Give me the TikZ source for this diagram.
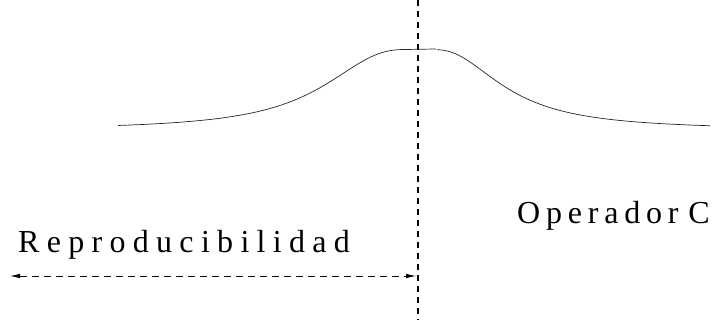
\documentclass[tikz,border=0pt]{standalone}
\usepackage{fontspec}
\setmainfont{Liberation Serif}
\usepackage{tikz}
\usetikzlibrary{arrows.meta}

\begin{document}
\begin{tikzpicture}[
  x=1pt, y=-1pt,
  label/.style={inner sep=0pt, font=\fontsize{32}{38}\selectfont},
  axisline/.style={line width=2.2pt, dash pattern=on 6pt off 5pt},
  spanarrow/.style={{Latex[length=10pt,width=4.5pt]}-{Latex[length=10pt,width=4.5pt]}, line width=0.8pt, dash pattern=on 7pt off 5pt},
  curve/.style={line width=0.7pt, black!85}
]
\useasboundingbox (0,0) rectangle (714,320);

% la curva
\draw[curve] plot[domain=118:404, samples=80] (\x, {126 - 80.5*(1/(1+((405-\x)/88.7)^2.4) - 0.05)})
  -- (436,49)
  plot[domain=437:710, samples=80] (\x, {126 - 80.3*(1/(1+((\x-436)/74)^2.2) - 0.05)});

% eje vertical
\coordinate (top) at (418,0);
\coordinate (bottom) at (418,320);
\draw[axisline] (top) -- (bottom);

% etiquetas
\node[label, anchor=base east] (operador) at (710,224) {\spaceskip=5.8pt O p e r a d o r\hspace{4pt} C};
\node[label, anchor=base west] (repro) at (18,252) {\spaceskip=7.3pt R e p r o d u c i b i l i d a d};

% flecha
\coordinate (arrowleft) at (10,276);
\coordinate (arrowright) at (416,276);
\draw[spanarrow] (arrowleft) -- (arrowright);
\end{tikzpicture}
\end{document}
